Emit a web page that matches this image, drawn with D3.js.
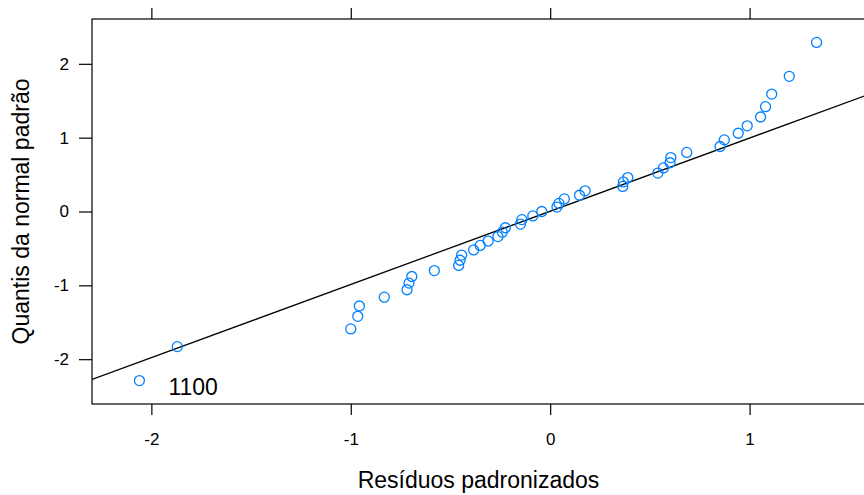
<!DOCTYPE html>
<html>
<head>
<meta charset="utf-8">
<script src="https://cdn.jsdelivr.net/npm/d3@7/dist/d3.min.js"></script>
<style>
  body { margin: 0; background: #fff; }
  text { font-family: "Liberation Sans", Arial, sans-serif; fill: #000; }
</style>
</head>
<body>
<svg id="chart" width="864" height="495"></svg>
<script>
// standardized residuals (x) vs theoretical normal quantiles (y)
const residuos = [-2.06, -1.87, -1.00, -0.965, -0.957, -0.832, -0.718, -0.708, -0.694, -0.581,
  -0.459, -0.452, -0.444, -0.384, -0.351, -0.311, -0.262, -0.240, -0.225, -0.149,
  -0.142, -0.087, -0.042, 0.034, 0.044, 0.071, 0.147, 0.175, 0.364, 0.367,
  0.389, 0.540, 0.568, 0.601, 0.605, 0.685, 0.852, 0.873, 0.943, 0.988,
  1.055, 1.080, 1.111, 1.199, 1.336]
const quantis = [-2.29, -1.83, -1.59, -1.42, -1.28, -1.16, -1.06, -0.97, -0.88, -0.80,
  -0.73, -0.66, -0.59, -0.52, -0.46, -0.40, -0.34, -0.28, -0.22, -0.17,
  -0.11, -0.06, 0.00, 0.06, 0.11, 0.17, 0.22, 0.28, 0.34, 0.40,
  0.46, 0.52, 0.59, 0.66, 0.73, 0.80, 0.88, 0.97, 1.06, 1.16,
  1.28, 1.42, 1.59, 1.83, 2.29]
const xTicks = [-2, -1, 0, 1]
const yTicks = [-2, -1, 0, 1, 2]
const rotulo = {index: 0, text: '1100'}
const linha = {intercept: 0.003, slope: 0.991}

let svg = d3.select('#chart'),
    panel = {left: 92, right: 865, top: 19, bottom: 404}

// lattice-style padding: 7% on each side of data range
let pad = (arr) => {
  let [lo, hi] = d3.extent(arr), d = (hi - lo) * 0.07
  return [lo - d, hi + d]
}

let x = d3.scaleLinear().domain(pad(residuos)).range([panel.left, panel.right - 1])
let y = d3.scaleLinear().domain([-2.607, 2.607]).range([panel.bottom, panel.top])

// plain hyphen for negatives, like R
let fmt = d => String(d)

// axes
let bottomAxis = d3.axisBottom(x).tickValues(xTicks).tickSize(11).tickSizeOuter(0).tickPadding(18).tickFormat(fmt)
let topAxis = d3.axisTop(x).tickValues(xTicks).tickSize(11).tickSizeOuter(0).tickFormat('')
let leftAxis = d3.axisLeft(y).tickValues(yTicks).tickSize(13).tickSizeOuter(0).tickPadding(10).tickFormat(fmt)

let styleAxis = g => {
  g.select('.domain').remove()
  g.selectAll('line').attr('stroke', '#000').attr('stroke-width', 1.2)
  g.selectAll('text').attr('font-size', 17).attr('font-family', '"Liberation Sans", Arial, sans-serif').attr('fill', '#000')
}

svg.append('g').attr('transform', `translate(0,${panel.bottom})`).call(bottomAxis).call(styleAxis)
svg.append('g').attr('transform', `translate(0,${panel.top})`).call(topAxis).call(styleAxis)
svg.append('g').attr('transform', `translate(${panel.left},0)`).call(leftAxis).call(styleAxis)

// panel frame
svg.append('rect')
  .attr('x', panel.left)
  .attr('y', panel.top)
  .attr('width', panel.right - panel.left)
  .attr('height', panel.bottom - panel.top)
  .attr('fill', 'none')
  .attr('stroke', '#000')
  .attr('stroke-width', 1.2)

svg.append('clipPath').attr('id', 'clip')
  .append('rect')
  .attr('x', panel.left)
  .attr('y', panel.top)
  .attr('width', panel.right - panel.left)
  .attr('height', panel.bottom - panel.top)

let plot = svg.append('g').attr('clip-path', 'url(#clip)')

// reference line
let [x0, x1] = x.domain()
plot.append('line')
  .attr('x1', x(x0))
  .attr('y1', y(linha.intercept + linha.slope * x0))
  .attr('x2', x(x1 + 0.05))
  .attr('y2', y(linha.intercept + linha.slope * (x1 + 0.05)))
  .attr('stroke', '#000')
  .attr('stroke-width', 1.3)

// points
plot.selectAll('circle')
  .data(residuos.map((r, i) => ({r, q: quantis[i]})))
  .join('circle')
  .attr('cx', d => x(d.r))
  .attr('cy', d => y(d.q))
  .attr('r', 5)
  .attr('fill', 'none')
  .attr('stroke', '#0080ff')
  .attr('stroke-width', 1.3)

// identified point label
svg.append('text')
  .attr('x', x(residuos[rotulo.index]) + 29)
  .attr('y', y(quantis[rotulo.index]) + 14)
  .attr('font-size', 23)
  .text(rotulo.text)

// axis titles
svg.append('text')
  .attr('x', (panel.left + panel.right) / 2)
  .attr('y', 488)
  .attr('text-anchor', 'middle')
  .attr('font-size', 23)
  .text('Resíduos padronizados')

svg.append('text')
  .attr('transform', `translate(29,${(panel.top + panel.bottom) / 2}) rotate(-90)`)
  .attr('text-anchor', 'middle')
  .attr('font-size', 23)
  .text('Quantis da normal padrão')
</script>
</body>
</html>
